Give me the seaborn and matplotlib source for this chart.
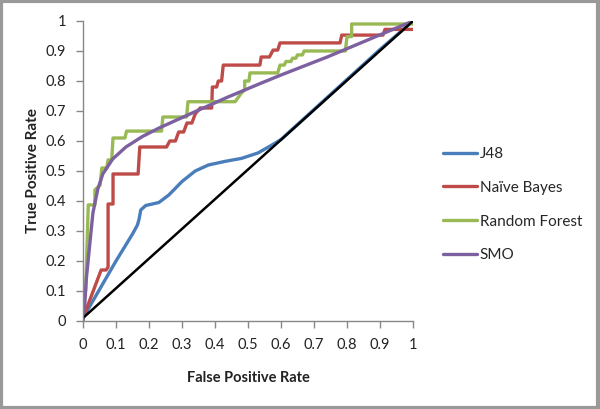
import pandas as pd
import matplotlib.pyplot as plt
import seaborn as sns
from matplotlib.patches import Rectangle

sns.set_theme(style="white")
plt.rcParams['font.family'] = ['Lato', 'DejaVu Sans']

# ROC curve points
j48_fpr = [0, 0.05, 0.1, 0.15, 0.165, 0.17, 0.175, 0.19, 0.21, 0.23, 0.26, 0.3, 0.34, 0.38,
           0.43, 0.48, 0.53, 0.57, 0.6, 0.7, 0.8, 0.9, 1.0]
j48_tpr = [0.01, 0.105, 0.2, 0.29, 0.32, 0.34, 0.37, 0.385, 0.39, 0.395, 0.42, 0.465, 0.5, 0.52,
           0.532, 0.542, 0.56, 0.585, 0.605, 0.705, 0.805, 0.905, 1.0]

nb_fpr = [0, 0.055, 0.07, 0.076, 0.076, 0.091, 0.091, 0.167, 0.172, 0.253, 0.263, 0.28, 0.29,
          0.305, 0.315, 0.33, 0.34, 0.355, 0.39, 0.392, 0.405, 0.41, 0.42, 0.425, 0.536, 0.54,
          0.565, 0.576, 0.59, 0.597, 0.779, 0.784, 0.909, 0.915, 1.0]
nb_tpr = [0.01, 0.17, 0.17, 0.18, 0.39, 0.39, 0.49, 0.49, 0.58, 0.58, 0.60, 0.60, 0.63,
          0.63, 0.66, 0.66, 0.69, 0.71, 0.71, 0.78, 0.78, 0.80, 0.80, 0.853, 0.853, 0.88,
          0.88, 0.903, 0.903, 0.927, 0.927, 0.953, 0.953, 0.972, 0.972]

rf_fpr = [0, 0, 0.008, 0.016, 0.036, 0.036, 0.052, 0.057, 0.072, 0.076, 0.087, 0.091, 0.127,
          0.132, 0.238, 0.242, 0.314, 0.318, 0.461, 0.48, 0.49, 0.49, 0.503, 0.506, 0.59, 0.597,
          0.61, 0.615, 0.63, 0.635, 0.645, 0.65, 0.665, 0.67, 0.795, 0.8, 0.814, 0.814, 1.0]
rf_tpr = [0.0, 0.1, 0.1, 0.387, 0.387, 0.437, 0.453, 0.51, 0.51, 0.537, 0.537, 0.61, 0.61,
          0.633, 0.633, 0.68, 0.68, 0.731, 0.731, 0.76, 0.77, 0.80, 0.80, 0.827, 0.827, 0.853,
          0.853, 0.865, 0.865, 0.876, 0.876, 0.887, 0.887, 0.9, 0.9, 0.948, 0.948, 0.99, 0.99]

smo_fpr = [0, 0.005, 0.01, 0.02, 0.03, 0.045, 0.06, 0.09, 0.13, 0.18, 0.23, 0.33, 0.44, 0.54,
           0.6, 0.74, 0.87, 1.0]
smo_tpr = [0.0, 0.05, 0.14, 0.25, 0.36, 0.44, 0.49, 0.54, 0.58, 0.615, 0.643, 0.693, 0.747,
           0.793, 0.82, 0.88, 0.94, 1.0]

diag_fpr = [0, 1]
diag_tpr = [0.01, 1]

series = [
    ('J48', j48_fpr, j48_tpr, '#4A7EBB'),
    ('Naïve Bayes', nb_fpr, nb_tpr, '#BE4B48'),
    ('Random Forest', rf_fpr, rf_tpr, '#98B954'),
    ('SMO', smo_fpr, smo_tpr, '#7D60A0'),
]
tick_labels = ['0', '0.1', '0.2', '0.3', '0.4', '0.5', '0.6', '0.7', '0.8', '0.9', '1']

fig = plt.figure(figsize=(6, 4.09), dpi=100)
ax = fig.add_axes([83/600, 88/409, 330/600, 300/409])

for name, fpr, tpr, color in series:
    df = pd.DataFrame({'FPR': fpr, 'TPR': tpr})
    sns.lineplot(data=df, x='FPR', y='TPR', sort=False, estimator=None, color=color,
                 linewidth=2.4, label=name, ax=ax)

sns.lineplot(x=diag_fpr, y=diag_tpr, color='black', linewidth=1.8, ax=ax, legend=False)

ax.set_xlim(0, 1)
ax.set_ylim(0, 1)
ax.set_xticks([i / 10 for i in range(11)])
ax.set_yticks([i / 10 for i in range(11)])
ax.set_xticklabels(tick_labels)
ax.set_yticklabels(tick_labels)
ax.tick_params(axis='both', direction='out', length=5, width=1, color='#888888',
               labelsize=10.5, labelcolor='#222222', left=True, bottom=True, pad=7)
for side in ['top', 'right']:
    ax.spines[side].set_visible(False)
for side in ['left', 'bottom']:
    ax.spines[side].set_color('#888888')
    ax.spines[side].set_linewidth(1)
ax.grid(False)

ax.set_xlabel('False Positive Rate', fontsize=10.5, fontweight='bold', color='#222222', labelpad=14)
ax.set_ylabel('True Positive Rate', fontsize=11, fontweight='bold', color='#222222', labelpad=4)

ax.legend(loc='upper left', bbox_to_anchor=(437/600, 1 - 141/409), bbox_transform=fig.transFigure,
          frameon=False, fontsize=11, handlelength=2.2, handletextpad=0.2, labelspacing=1.29,
          borderaxespad=0)

fig.patches.append(Rectangle((0.002, 0.003), 0.994, 0.994, transform=fig.transFigure,
                             fill=False, edgecolor='#999999', linewidth=3))

plt.savefig('out.png', dpi=100)
